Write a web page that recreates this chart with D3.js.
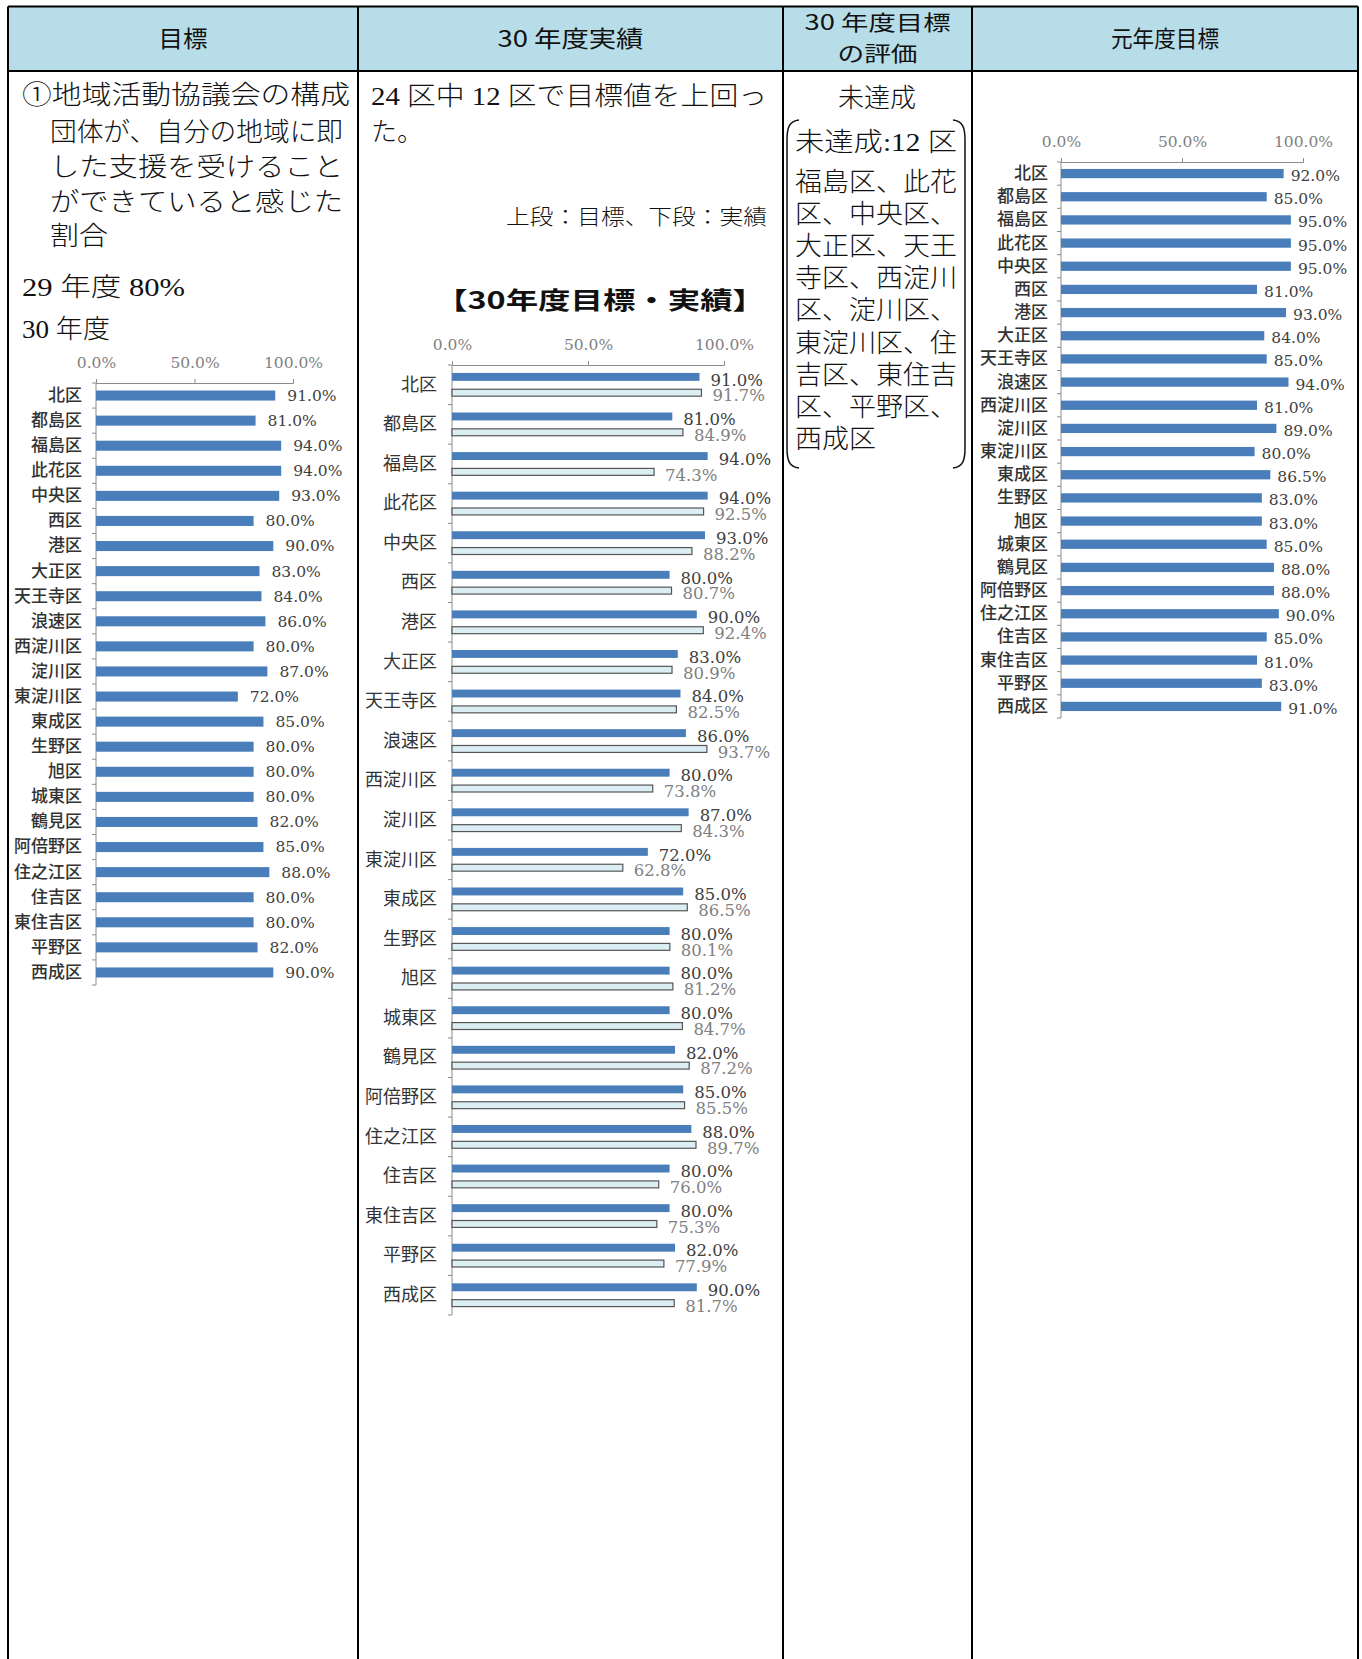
<!DOCTYPE html>
<html>
<meta charset="utf-8">
<head>
<title>地域活動協議会 目標・実績</title>
<style>
body { margin: 0; background: #fff; }
svg { display: block; }
.body-text { font-family: "Liberation Serif", "Noto Sans CJK JP", serif; font-size: 26px; font-weight: 300; fill: #111; }
.head-text { font-family: "Noto Sans CJK JP", sans-serif; font-size: 23px; fill: #111; }
.tick text { font-family: "DejaVu Serif", serif; font-size: 15.5px; fill: #7f7f7f; }
.cat text { font-family: "Noto Sans CJK JP", sans-serif; fill: #333; }
.val { font-family: "DejaVu Serif", serif; fill: #404040; }
.val2 { font-family: "DejaVu Serif", serif; fill: #808080; }
</style>
</head>
<body>
<script src="https://cdnjs.cloudflare.com/ajax/libs/d3/7.8.5/d3.min.js"></script>
<script>

// ---- data ----
var wards = ["北区", "都島区", "福島区", "此花区", "中央区", "西区", "港区", "大正区",
  "天王寺区", "浪速区", "西淀川区", "淀川区", "東淀川区", "東成区", "生野区", "旭区",
  "城東区", "鶴見区", "阿倍野区", "住之江区", "住吉区", "東住吉区", "平野区", "西成区"];

// 30年度 目標
var target30 = [91, 81, 94, 94, 93, 80, 90, 83, 84, 86, 80, 87, 72, 85, 80, 80, 80, 82, 85, 88, 80, 80, 82, 90];
// 30年度 実績
var actual30 = [91.7, 84.9, 74.3, 92.5, 88.2, 80.7, 92.4, 80.9, 82.5, 93.7, 73.8, 84.3, 62.8, 86.5, 80.1,
  81.2, 84.7, 87.2, 85.5, 89.7, 76.0, 75.3, 77.9, 81.7];
// 元年度 目標
var target01 = [92, 85, 95, 95, 95, 81, 93, 84, 85, 94, 81, 89, 80, 86.5, 83, 83, 85, 88, 88, 90, 85, 81, 83, 91];

var tickVals = [0, 50, 100];
var headers = ["目標", "30 年度実績", ["30 年度目標", "の評価"], "元年度目標"];
var missed = ["福島区、此花", "区、中央区、", "大正区、天王", "寺区、西淀川", "区、淀川区、",
  "東淀川区、住", "吉区、東住吉", "区、平野区、", "西成区"];

var blue = "#4a7ebb";
var fmt = function(d) { return d.toFixed(1) + "%"; };

var svg = d3.select("body").append("svg")
    .attr("width", 1362)
    .attr("height", 1659);

// ---- table frame ----
var cols = [8, 358, 783, 972, 1358];
var headTop = 6.5, headBottom = 71;

svg.append("rect")
    .attr("x", cols[0]).attr("y", headTop)
    .attr("width", cols[4] - cols[0]).attr("height", headBottom - headTop)
    .attr("fill", "#b7dde8");

function txt(x, y, s, cls, w, anchor) {
  var t = svg.append("text")
      .attr("class", cls)
      .attr("x", x).attr("y", y)
      .attr("text-anchor", anchor || "start")
      .text(s);
  if (w) t.attr("textLength", w).attr("lengthAdjust", "spacingAndGlyphs");
  return t;
}

// headers
txt((cols[0] + cols[1]) / 2, 47, headers[0], "head-text", 49, "middle");
txt((cols[1] + cols[2]) / 2, 47, headers[1], "head-text", 146, "middle");
txt((cols[2] + cols[3]) / 2, 30, headers[2][0], "head-text", 146, "middle").style("font-size", "21px");
txt((cols[2] + cols[3]) / 2, 61, headers[2][1], "head-text", 80, "middle").style("font-size", "21px");
txt((cols[3] + cols[4]) / 2, 47, headers[3], "head-text", 108, "middle");

// column 1 text
txt(22, 104, "①地域活動協議会の構成", "body-text", 328);
txt(50, 141, "団体が、自分の地域に即", "body-text", 293);
txt(50, 176, "した支援を受けること", "body-text", 293);
txt(50, 211, "ができていると感じた", "body-text", 293);
txt(50, 245, "割合", "body-text", 58);
txt(22, 296, "29 年度  80%", "body-text", 163);
txt(22, 338, "30 年度", "body-text", 88);

// column 2 text
txt(371, 105, "24 区中 12 区で目標値を上回っ", "body-text", 396);
txt(371, 141, "た。", "body-text");
txt(767, 224, "上段：目標、下段：実績", "head-text", 261, "end").style("font-size", "21px").style("font-weight", 300);
txt(600, 309, "【30年度目標・実績】", "head-text", 330, "middle").style("font-size", "24px").style("font-weight", 700);

// column 3 text
txt(877, 107, "未達成", "body-text", null, "middle");
txt(795, 151, "未達成:12 区", "body-text", 162);
missed.forEach(function(s, i) {
  txt(795, 191 + i * 32.1, s, "body-text", s.length === 6 ? 162 : 81);
});
// round brackets
svg.append("path")
    .attr("d", "M799,120 C789,121 787,128 787,140 L787,448 C787,460 789,467 799,468")
    .attr("fill", "none").attr("stroke", "#111").attr("stroke-width", 1.5);
svg.append("path")
    .attr("d", "M953,120 C963,121 965,128 965,140 L965,448 C965,460 963,467 953,468")
    .attr("fill", "none").attr("stroke", "#111").attr("stroke-width", 1.5);

// ---- charts ----
function frame(x, y, pad, fontSize, weight) {
  var ax = svg.append("g")
      .attr("class", "tick-axis")
      .attr("transform", "translate(0," + y.range()[0] + ")")
      .call(d3.axisTop(x).tickValues(tickVals).tickFormat(fmt).tickSize(4).tickSizeOuter(4).tickPadding(11));
  ax.select(".domain").attr("stroke", "#8c8c8c");
  ax.selectAll(".tick line").attr("stroke", "#8c8c8c");
  ax.selectAll("text").attr("font-family", null).attr("font-size", null);

  var cat = svg.append("g")
      .attr("class", "cat")
      .attr("transform", "translate(" + x(0) + ",0)")
      .call(d3.axisLeft(y).tickSize(0).tickPadding(pad));
  cat.select(".domain").remove();
  cat.attr("font-family", null).attr("font-size", null);
  cat.selectAll("text")
      .style("font-size", fontSize + "px")
      .style("font-weight", weight);

  svg.append("line")
      .attr("x1", x(0)).attr("x2", x(0))
      .attr("y1", y.range()[0]).attr("y2", y.range()[1])
      .attr("stroke", "#8c8c8c");
  svg.append("g").selectAll("line")
      .data(d3.range(wards.length + 1))
      .join("line")
      .attr("x1", x(0) - 4).attr("x2", x(0))
      .attr("y1", function(i) { return y.range()[0] + i * y.step(); })
      .attr("y2", function(i) { return y.range()[0] + i * y.step(); })
      .attr("stroke", "#8c8c8c");
}

function singleChart(values, x, y, labelGap, labelSize, labelDy) {
  var h = y.bandwidth() * 0.4;
  svg.append("g").selectAll("rect")
      .data(values)
      .join("rect")
      .attr("x", x(0))
      .attr("y", function(d, i) { return y(wards[i]) + (y.bandwidth() - h) / 2; })
      .attr("width", function(d) { return x(d) - x(0); })
      .attr("height", h)
      .attr("fill", blue);
  svg.append("g").selectAll("text")
      .data(values)
      .join("text")
      .attr("class", "val")
      .attr("x", function(d) { return x(d) + labelGap; })
      .attr("y", function(d, i) { return y(wards[i]) + y.bandwidth() / 2 + labelDy; })
      .attr("dy", "0.35em")
      .style("font-size", labelSize + "px")
      .text(fmt);
}

// chart 1: 30年度 目標
var x1 = d3.scaleLinear().domain([0, 100]).range([96, 293]);
var y1 = d3.scaleBand().domain(wards).range([383, 985]);
frame(x1, y1, 14, 17, 500);
singleChart(target30, x1, y1, 12, 15.5, 0);

// chart 2: 30年度 目標・実績
var x2 = d3.scaleLinear().domain([0, 100]).range([452, 724]);
var y2 = d3.scaleBand().domain(wards).range([365, 1315]);
var sub = d3.scaleBand().domain(["target", "actual"]).range([0, y2.bandwidth()]).paddingInner(0.5).paddingOuter(0.5);
frame(x2, y2, 15, 18, 400);

var rows = wards.map(function(w, i) { return {ward: w, target: target30[i], actual: actual30[i]}; });
var g2 = svg.append("g");
g2.selectAll(".tbar")
    .data(rows)
    .join("rect")
    .attr("class", "tbar")
    .attr("x", x2(0))
    .attr("y", function(d) { return y2(d.ward) + sub("target"); })
    .attr("width", function(d) { return x2(d.target) - x2(0); })
    .attr("height", sub.bandwidth())
    .attr("fill", blue);
g2.selectAll(".abar")
    .data(rows)
    .join("rect")
    .attr("class", "abar")
    .attr("x", x2(0))
    .attr("y", function(d) { return y2(d.ward) + sub("actual") + 0.5; })
    .attr("width", function(d) { return x2(d.actual) - x2(0); })
    .attr("height", sub.bandwidth() - 1)
    .attr("fill", "#dbeef4")
    .attr("stroke", "#555")
    .attr("stroke-width", 1.2);
g2.selectAll(".tlab")
    .data(rows)
    .join("text")
    .attr("class", "val tlab")
    .attr("x", function(d) { return x2(d.target) + 11; })
    .attr("y", function(d) { return y2(d.ward) + sub("target") + sub.bandwidth() / 2 + 3; })
    .attr("dy", "0.35em")
    .style("font-size", "16.5px")
    .text(function(d) { return fmt(d.target); });
g2.selectAll(".alab")
    .data(rows)
    .join("text")
    .attr("class", "val2 alab")
    .attr("x", function(d) { return x2(d.actual) + 11; })
    .attr("y", function(d) { return y2(d.ward) + sub("actual") + sub.bandwidth() / 2 + 3; })
    .attr("dy", "0.35em")
    .style("font-size", "16.5px")
    .text(function(d) { return fmt(d.actual); });

// chart 3: 元年度 目標
var x3 = d3.scaleLinear().domain([0, 100]).range([1061, 1303]);
var y3 = d3.scaleBand().domain(wards).range([162, 718]);
frame(x3, y3, 13, 17, 500);
singleChart(target01, x3, y3, 7, 15.5, 2);

// table lines on top
var lines = svg.append("g").attr("stroke", "#000").attr("stroke-width", 2);
lines.append("line").attr("x1", cols[0]).attr("x2", cols[4]).attr("y1", headTop).attr("y2", headTop);
lines.append("line").attr("x1", cols[0]).attr("x2", cols[4]).attr("y1", headBottom).attr("y2", headBottom);
cols.forEach(function(c) {
  lines.append("line").attr("x1", c).attr("x2", c).attr("y1", headTop).attr("y2", 1659);
});

</script>
</body>
</html>
